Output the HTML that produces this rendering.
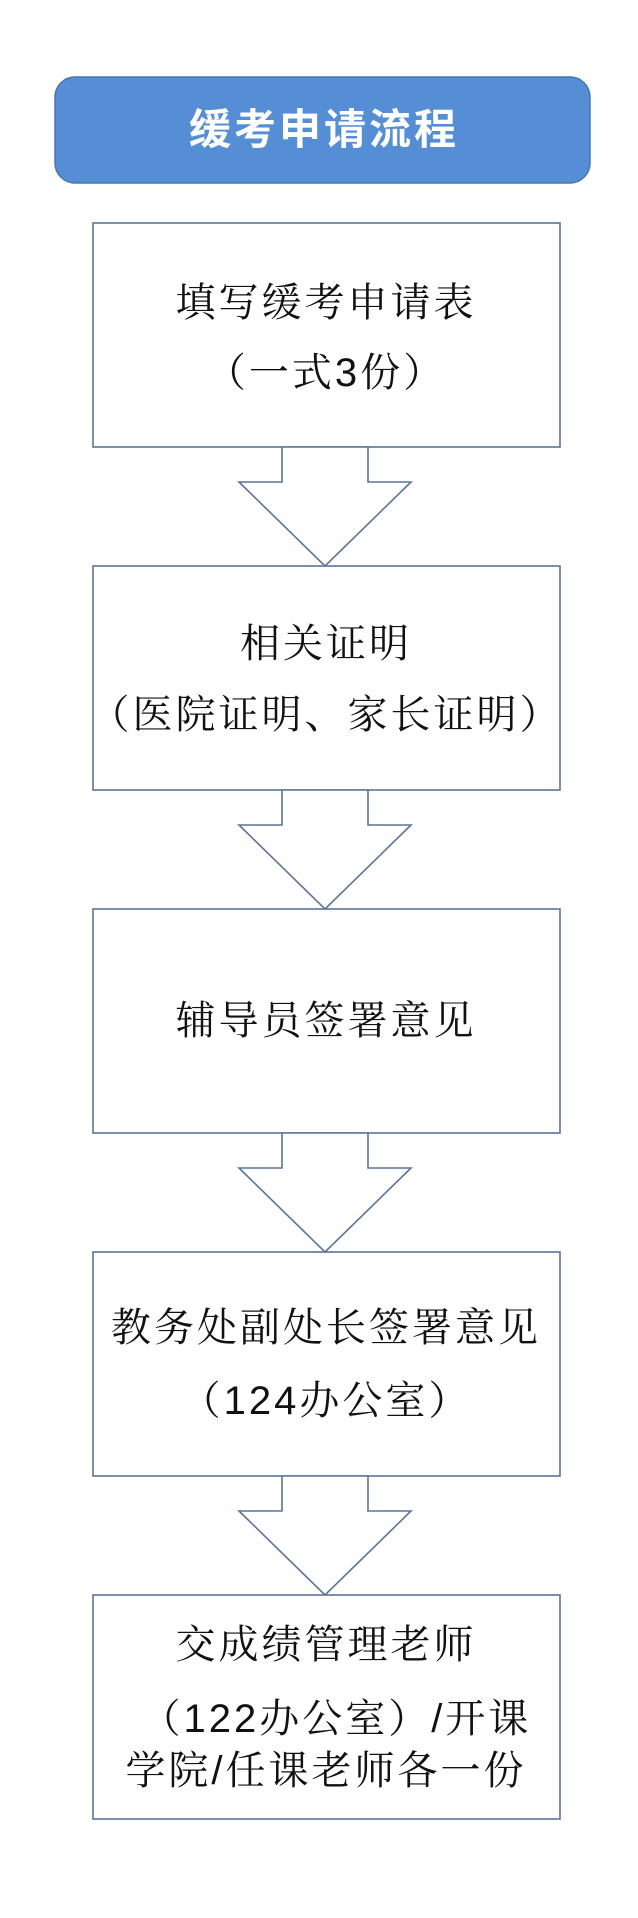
<!DOCTYPE html>
<html><head><meta charset="utf-8"><style>
html,body{margin:0;padding:0;background:#fff;}
svg{display:block;}
.t{font-family:"Liberation Sans","Noto Serif CJK SC",serif;font-size:40px;fill:#111;letter-spacing:3px;}
.h{font-family:"Liberation Sans","Noto Sans CJK SC",sans-serif;font-size:42px;font-weight:bold;fill:#fff;letter-spacing:3px;}
</style></head><body>
<svg width="638" height="1918" viewBox="0 0 638 1918" xmlns="http://www.w3.org/2000/svg">
<rect x="55" y="77" width="535" height="106" rx="20" fill="#558ed5" stroke="#4a76ab" stroke-width="1.5"/>
<text class="h" x="324" y="144" text-anchor="middle">缓考申请流程</text>
<g fill="#fff" stroke="#5b7599" stroke-width="1.6">
<rect x="93" y="223" width="467" height="224"/>
<rect x="93" y="566" width="467" height="224"/>
<rect x="93" y="909" width="467" height="224"/>
<rect x="93" y="1252" width="467" height="224"/>
<rect x="93" y="1595" width="467" height="224"/>
<polygon points="282,447 368,447 368,482 411,482 325,566 239,482 282,482"/>
<polygon points="282,790 368,790 368,825 411,825 325,909 239,825 282,825"/>
<polygon points="282,1133 368,1133 368,1168 411,1168 325,1252 239,1168 282,1168"/>
<polygon points="282,1476 368,1476 368,1511 411,1511 325,1595 239,1511 282,1511"/>
</g>
<g class="t" text-anchor="middle">
<text x="326" y="316">填写缓考申请表</text>
<text x="326" y="386">（一式3份）</text>
<text x="326" y="657">相关证明</text>
<text x="326" y="728">（医院证明、家长证明）</text>
<text x="326" y="1034">辅导员签署意见</text>
<text x="326" y="1341">教务处副处长签署意见</text>
<text x="326" y="1414">（124办公室）</text>
<text x="326" y="1658">交成绩管理老师</text>
<text x="336" y="1732">（122办公室）/开课</text>
<text x="326" y="1784">学院/任课老师各一份</text>
</g>
</svg>
</body></html>
